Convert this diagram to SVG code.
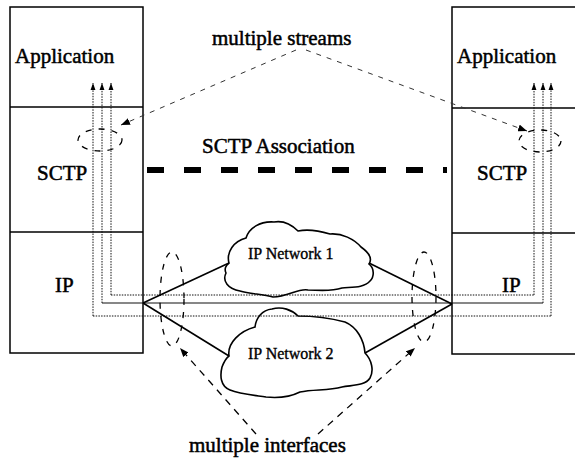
<svg xmlns="http://www.w3.org/2000/svg" width="575" height="459" viewBox="0 0 575 459">
<style>
text{font-family:"Liberation Serif","Times New Roman",serif;fill:#000;stroke:#000;stroke-width:0.5}
.big{font-size:21px}
.net{font-size:16px;stroke-width:0.35}
.box{fill:none;stroke:#000;stroke-width:1.5}
.dot{fill:none;stroke:#111;stroke-width:1;stroke-dasharray:1.5,1.2}
.sol{fill:none;stroke:#111;stroke-width:1.1}
.link{fill:none;stroke:#000;stroke-width:1.6}
.cloud{fill:#fff;stroke:#000;stroke-width:1.6}
.ell{fill:none;stroke:#000;stroke-width:1.3;stroke-dasharray:6,7}
.pt{fill:none;stroke:#333;stroke-width:1;stroke-dasharray:5,6}
.pti{fill:none;stroke:#000;stroke-width:1.3;stroke-dasharray:7,6}
.assoc{fill:none;stroke:#000;stroke-width:6;stroke-dasharray:17,20}
</style>
<defs>
<marker id="ah" markerWidth="7" markerHeight="10" refX="10" refY="3.5" orient="auto" markerUnits="userSpaceOnUse" viewBox="0 0 10 7">
<path d="M0,0 L10,3.5 L0,7 Z" fill="#000"/>
</marker>
<marker id="ah2" markerWidth="9" markerHeight="7" refX="9" refY="3.5" orient="auto" markerUnits="userSpaceOnUse" viewBox="0 0 9 7">
<path d="M0,0 L9,3.5 L0,7 Z" fill="#000"/>
</marker>
</defs>

<g id="left-host">
<rect class="box" x="10" y="7" width="133" height="346"/>
<line class="box" x1="10" y1="107" x2="143" y2="107"/>
<line class="box" x1="10" y1="232" x2="143" y2="232"/>
<text class="big" x="15" y="63">Application</text>
<text class="big" x="37" y="180">SCTP</text>
<text class="big" x="55" y="292">IP</text>
</g>

<g id="right-host">
<rect class="box" x="452" y="7" width="140" height="347"/>
<line class="box" x1="452" y1="108" x2="575" y2="108"/>
<line class="box" x1="452" y1="233" x2="575" y2="233"/>
<text class="big" x="457" y="63">Application</text>
<text class="big" x="477" y="180">SCTP</text>
<text class="big" x="502" y="292">IP</text>
</g>

<g id="ip-network-1">
<path class="cloud" d="M229,263 C226,252 234,241 246,238 C249,228 260,221 274,222 C285,220 293,226 298,231 C308,229 320,231 330,234 C342,233 354,239 361,247 C368,252 373,258 369,264 C375,269 374,277 370,281 C364,288 352,287 342,288 C330,292 318,290 308,290 C298,288 288,297 273,297 C262,294 250,294 240,291 C228,289 222,281 226,273 C224,269 226,265 229,263 Z"/>
<text class="net" x="248" y="259">IP Network 1</text>
</g>

<g id="ip-network-2">
<path class="cloud" d="M229,356 C227,343 240,331 255,327 C256,318 262,310 272,309 C282,306 292,310 298,316 C312,316 330,318 345,322 C357,327 364,340 365,353 C372,360 374,371 370,378 C365,386 352,385 342,387 C328,391 314,389 300,392 C288,398 276,398 266,397 C252,395 240,394 230,390 C220,386 220,375 222,367 C224,362 226,358 229,356 Z"/>
<text class="net" x="248" y="359">IP Network 2</text>
</g>

<g id="labels">
<text class="big" x="212" y="45">multiple streams</text>
<text class="big" x="202" y="153">SCTP Association</text>
<text class="big" x="189" y="452">multiple interfaces</text>
</g>

<g id="connectors">
<path class="dot" d="M93,316 H551"/>
<path class="dot" d="M111,295 H534"/>
<path class="sol" d="M102,303 H543"/>
<path class="dot" d="M93,316 V83" marker-end="url(#ah)"/>
<path class="dot" d="M102,303 V83" marker-end="url(#ah)"/>
<path class="dot" d="M111,295 V83" marker-end="url(#ah)"/>
<path class="dot" d="M534,295 V83" marker-end="url(#ah)"/>
<path class="dot" d="M543,303 V83" marker-end="url(#ah)"/>
<path class="dot" d="M551,316 V83" marker-end="url(#ah)"/>
<path class="link" d="M143,303 L229,263"/>
<path class="link" d="M143,303 L229,356"/>
<path class="link" d="M452,304 L369,263"/>
<path class="link" d="M452,304 L365,353"/>
<path class="assoc" d="M147,170 H447"/>
<ellipse class="ell" cx="100" cy="140" rx="22" ry="11"/>
<ellipse class="ell" cx="540" cy="141" rx="21" ry="11"/>
<path class="pt" d="M296,50 L121,125" marker-end="url(#ah2)"/>
<path class="pt" d="M306,50 L527,131" marker-end="url(#ah2)"/>
<ellipse class="ell" cx="172" cy="299" rx="12" ry="47"/>
<ellipse class="ell" cx="424" cy="297" rx="12" ry="45"/>
<path class="pti" d="M256,434 L180,348" marker-end="url(#ah2)"/>
<path class="pti" d="M318,434 L415,348" marker-end="url(#ah2)"/>
</g>
</svg>
